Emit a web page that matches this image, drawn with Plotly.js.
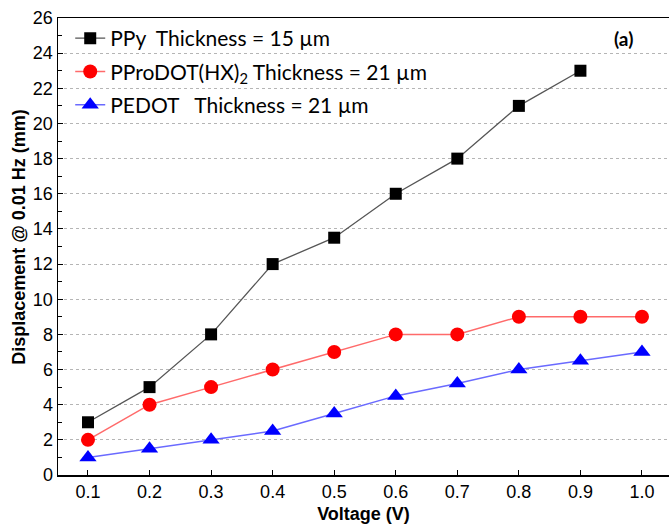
<!DOCTYPE html>
<html>
<head>
<meta charset="utf-8">
<script src="https://cdn.plot.ly/plotly-3.0.1.min.js"></script>
<style>html,body{margin:0;padding:0;background:#fff;}#chart{width:669px;height:529px;}</style>
</head>
<body>
<div id="chart"></div>
<script>
var voltage = [0.1, 0.2, 0.3, 0.4, 0.5, 0.6, 0.7, 0.8, 0.9, 1.0];
var ppyVoltage = [0.1, 0.2, 0.3, 0.4, 0.5, 0.6, 0.7, 0.8, 0.9];
var ppy = [3, 5, 8, 12, 13.5, 16, 18, 21, 23];
var pprodot = [2, 4, 5, 6, 7, 8, 8, 9, 9, 9];
var pedot = [1, 1.5, 2, 2.5, 3.5, 4.5, 5.2, 6, 6.5, 7];
var seriesNames = ['PPy&nbsp;&nbsp;Thickness = 15 µm', 'PProDOT(HX)<sub>2</sub> Thickness = 21 µm', 'PEDOT&nbsp;&nbsp;&nbsp;Thickness = 21 µm'];
var xTicks = [0.1, 0.2, 0.3, 0.4, 0.5, 0.6, 0.7, 0.8, 0.9, 1.0];
var xTickText = ['0.1', '0.2', '0.3', '0.4', '0.5', '0.6', '0.7', '0.8', '0.9', '1.0'];

var traces = [
  {x: ppyVoltage, y: ppy, name: seriesNames[0], legendgroup: 'a', mode: 'lines+markers', type: 'scatter',
   line: {color: '#555555', width: 1.3}, marker: {symbol: 'square', size: 12, color: '#000000'}},
  {x: voltage, y: pprodot, name: seriesNames[1], legendgroup: 'b', mode: 'lines+markers', type: 'scatter',
   line: {color: '#ff6a6a', width: 1.5}, marker: {symbol: 'circle', size: 14, color: '#ff0000'}},
  {x: voltage, y: pedot, name: seriesNames[2], legendgroup: 'c', mode: 'lines+markers', type: 'scatter',
   line: {color: '#6a6aff', width: 1.5}, marker: {symbol: 'triangle-up', size: 15, color: '#0000ff'}}
];

var layout = {
  width: 669, height: 529,
  margin: {l: 58, r: 0, t: 18, b: 54},
  paper_bgcolor: '#ffffff', plot_bgcolor: '#ffffff',
  showlegend: true,
  legend: {x: 0.02, y: 1.0, xanchor: 'left', yanchor: 'top', bgcolor: 'rgba(0,0,0,0)',
           font: {family: 'Lato, "Open Sans", sans-serif', size: 21, color: '#000'},
           itemwidth: 30, traceorder: 'grouped', tracegroupgap: 3},
  xaxis: {range: [0.0513, 1.0439], tickvals: xTicks, ticktext: xTickText,
          ticks: 'inside', ticklen: 5, tickcolor: '#000', showgrid: false, zeroline: false,
          showline: true, linecolor: '#000', linewidth: 1.5, mirror: true,
          tickfont: {family: '"Liberation Sans", Arial, sans-serif', size: 18, color: '#000'},
          title: {text: '<b>Voltage (V)</b>', standoff: 6,
                  font: {family: '"Liberation Sans", Arial, sans-serif', size: 18, color: '#000'}}},
  yaxis: {range: [0, 26], dtick: 2, tick0: 0, ticks: 'inside', ticklen: 5, tickcolor: '#000',
          showgrid: true, gridcolor: '#b5b5b5', griddash: 'dot', gridwidth: 1, zeroline: false,
          showline: true, linecolor: '#000', linewidth: 1.5,
          minor: {dtick: 1, ticks: 'inside', ticklen: 4, tickcolor: '#000', showgrid: false},
          tickfont: {family: '"Liberation Sans", Arial, sans-serif', size: 18, color: '#000'}},
  annotations: [
    {text: '<b>(a)</b>', xref: 'paper', yref: 'paper', x: 0.925, y: 0.955, xanchor: 'center', yanchor: 'middle',
     showarrow: false, font: {family: 'Lato, "Open Sans", sans-serif', size: 19, color: '#000'}},
    {text: '<b>Displacement @ 0.01 Hz (mm)</b>', xref: 'paper', yref: 'paper', x: -0.064, y: 0.521,
     xanchor: 'center', yanchor: 'middle', textangle: -90, showarrow: false,
     font: {family: '"Liberation Sans", Arial, sans-serif', size: 18, color: '#000'}}
  ]
};

Plotly.newPlot('chart', traces, layout, {displayModeBar: false, staticPlot: true});
</script>
</body>
</html>
